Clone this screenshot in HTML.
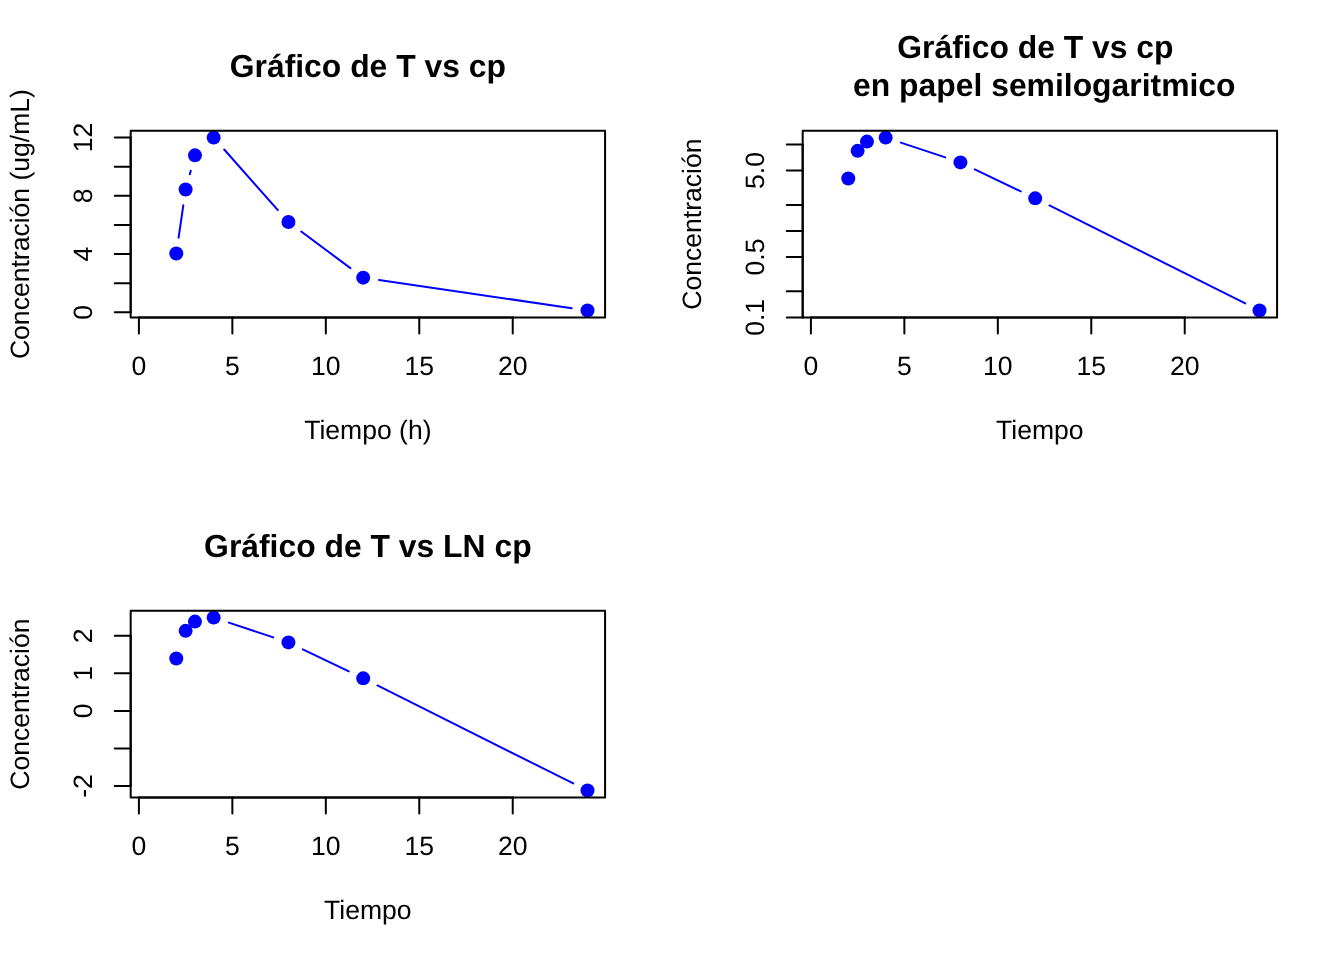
<!DOCTYPE html>
<html><head><meta charset="utf-8"><style>
html,body{margin:0;padding:0;background:#fff;width:1344px;height:960px;overflow:hidden}
svg{display:block;will-change:transform}
text{font-family:"Liberation Sans",sans-serif;fill:#000;text-rendering:geometricPrecision}
.ax{font-size:26.56px}
.mn{font-size:31.87px;font-weight:bold}
line,rect{stroke-width:2;stroke-linecap:round;stroke-linejoin:round}
</style></head><body>
<svg width="1344" height="960" viewBox="0 0 1344 960">
<rect x="0" y="0" width="1344" height="960" fill="#fff" stroke="none"/>
<line x1="178.59" y1="237.70" x2="183.32" y2="205.33" stroke="#0000ff"/>
<line x1="189.83" y1="174.19" x2="190.77" y2="170.73" stroke="#0000ff"/>
<line x1="224.23" y1="149.52" x2="277.87" y2="210.10" stroke="#0000ff"/>
<line x1="301.22" y1="231.54" x2="350.41" y2="268.12" stroke="#0000ff"/>
<line x1="378.97" y1="279.95" x2="571.73" y2="308.22" stroke="#0000ff"/>
<circle cx="176.28" cy="253.47" r="7.0" fill="#0000ff" stroke="none"/>
<circle cx="185.63" cy="189.56" r="7.0" fill="#0000ff" stroke="none"/>
<circle cx="194.97" cy="155.35" r="7.0" fill="#0000ff" stroke="none"/>
<circle cx="213.67" cy="137.59" r="7.0" fill="#0000ff" stroke="none"/>
<circle cx="288.43" cy="222.03" r="7.0" fill="#0000ff" stroke="none"/>
<circle cx="363.20" cy="277.64" r="7.0" fill="#0000ff" stroke="none"/>
<circle cx="587.50" cy="310.54" r="7.0" fill="#0000ff" stroke="none"/>
<rect x="130.68" y="130.68" width="474.39" height="186.78" fill="none" stroke="#000"/>
<line x1="138.90" y1="317.45" x2="512.73" y2="317.45" stroke="#000"/>
<line x1="138.90" y1="317.45" x2="138.90" y2="333.39" stroke="#000"/>
<text x="138.90" y="374.82" class="ax" text-anchor="middle">0</text>
<line x1="232.36" y1="317.45" x2="232.36" y2="333.39" stroke="#000"/>
<text x="232.36" y="374.82" class="ax" text-anchor="middle">5</text>
<line x1="325.82" y1="317.45" x2="325.82" y2="333.39" stroke="#000"/>
<text x="325.82" y="374.82" class="ax" text-anchor="middle">10</text>
<line x1="419.27" y1="317.45" x2="419.27" y2="333.39" stroke="#000"/>
<text x="419.27" y="374.82" class="ax" text-anchor="middle">15</text>
<line x1="512.73" y1="317.45" x2="512.73" y2="333.39" stroke="#000"/>
<text x="512.73" y="374.82" class="ax" text-anchor="middle">20</text>
<line x1="130.68" y1="312.28" x2="130.68" y2="137.59" stroke="#000"/>
<line x1="130.68" y1="312.28" x2="114.74" y2="312.28" stroke="#000"/>
<line x1="130.68" y1="283.17" x2="114.74" y2="283.17" stroke="#000"/>
<line x1="130.68" y1="254.05" x2="114.74" y2="254.05" stroke="#000"/>
<line x1="130.68" y1="224.94" x2="114.74" y2="224.94" stroke="#000"/>
<line x1="130.68" y1="195.82" x2="114.74" y2="195.82" stroke="#000"/>
<line x1="130.68" y1="166.71" x2="114.74" y2="166.71" stroke="#000"/>
<line x1="130.68" y1="137.59" x2="114.74" y2="137.59" stroke="#000"/>
<text x="92.43" y="312.28" class="ax" text-anchor="middle" transform="rotate(-90 92.43 312.28)">0</text>
<text x="92.43" y="254.05" class="ax" text-anchor="middle" transform="rotate(-90 92.43 254.05)">4</text>
<text x="92.43" y="195.82" class="ax" text-anchor="middle" transform="rotate(-90 92.43 195.82)">8</text>
<text x="92.43" y="137.59" class="ax" text-anchor="middle" transform="rotate(-90 92.43 137.59)">12</text>
<text x="367.87" y="76.75" class="mn" text-anchor="middle" xml:space="preserve">Gráfico de T vs cp</text>
<text x="367.87" y="438.57" class="ax" text-anchor="middle">Tiempo (h)</text>
<text x="28.68" y="224.06" class="ax" text-anchor="middle" transform="rotate(-90 28.68 224.06)">Concentración (ug/mL)</text>
<line x1="900.79" y1="142.61" x2="945.31" y2="157.37" stroke="#0000ff"/>
<line x1="974.79" y1="169.30" x2="1020.84" y2="191.44" stroke="#0000ff"/>
<line x1="1049.45" y1="205.48" x2="1245.25" y2="303.41" stroke="#0000ff"/>
<circle cx="848.28" cy="178.48" r="7.0" fill="#0000ff" stroke="none"/>
<circle cx="857.63" cy="150.85" r="7.0" fill="#0000ff" stroke="none"/>
<circle cx="866.97" cy="141.62" r="7.0" fill="#0000ff" stroke="none"/>
<circle cx="885.67" cy="137.59" r="7.0" fill="#0000ff" stroke="none"/>
<circle cx="960.43" cy="162.39" r="7.0" fill="#0000ff" stroke="none"/>
<circle cx="1035.20" cy="198.35" r="7.0" fill="#0000ff" stroke="none"/>
<circle cx="1259.50" cy="310.54" r="7.0" fill="#0000ff" stroke="none"/>
<rect x="802.68" y="130.68" width="474.39" height="186.78" fill="none" stroke="#000"/>
<line x1="810.90" y1="317.45" x2="1184.73" y2="317.45" stroke="#000"/>
<line x1="810.90" y1="317.45" x2="810.90" y2="333.39" stroke="#000"/>
<text x="810.90" y="374.82" class="ax" text-anchor="middle">0</text>
<line x1="904.36" y1="317.45" x2="904.36" y2="333.39" stroke="#000"/>
<text x="904.36" y="374.82" class="ax" text-anchor="middle">5</text>
<line x1="997.82" y1="317.45" x2="997.82" y2="333.39" stroke="#000"/>
<text x="997.82" y="374.82" class="ax" text-anchor="middle">10</text>
<line x1="1091.27" y1="317.45" x2="1091.27" y2="333.39" stroke="#000"/>
<text x="1091.27" y="374.82" class="ax" text-anchor="middle">15</text>
<line x1="1184.73" y1="317.45" x2="1184.73" y2="333.39" stroke="#000"/>
<text x="1184.73" y="374.82" class="ax" text-anchor="middle">20</text>
<line x1="802.68" y1="317.38" x2="802.68" y2="144.44" stroke="#000"/>
<line x1="802.68" y1="317.38" x2="786.74" y2="317.38" stroke="#000"/>
<line x1="802.68" y1="291.35" x2="786.74" y2="291.35" stroke="#000"/>
<line x1="802.68" y1="256.94" x2="786.74" y2="256.94" stroke="#000"/>
<line x1="802.68" y1="230.91" x2="786.74" y2="230.91" stroke="#000"/>
<line x1="802.68" y1="204.88" x2="786.74" y2="204.88" stroke="#000"/>
<line x1="802.68" y1="170.47" x2="786.74" y2="170.47" stroke="#000"/>
<line x1="802.68" y1="144.44" x2="786.74" y2="144.44" stroke="#000"/>
<text x="764.43" y="317.38" class="ax" text-anchor="middle" transform="rotate(-90 764.43 317.38)">0.1</text>
<text x="764.43" y="256.94" class="ax" text-anchor="middle" transform="rotate(-90 764.43 256.94)">0.5</text>
<text x="764.43" y="170.47" class="ax" text-anchor="middle" transform="rotate(-90 764.43 170.47)">5.0</text>
<text x="1039.87" y="57.62" class="mn" text-anchor="middle" xml:space="preserve">Gráfico de T vs cp </text>
<text x="1039.87" y="95.87" class="mn" text-anchor="middle" xml:space="preserve"> en papel semilogaritmico</text>
<text x="1039.87" y="438.57" class="ax" text-anchor="middle">Tiempo</text>
<text x="700.68" y="224.06" class="ax" text-anchor="middle" transform="rotate(-90 700.68 224.06)">Concentración</text>
<line x1="228.79" y1="622.61" x2="273.31" y2="637.37" stroke="#0000ff"/>
<line x1="302.79" y1="649.30" x2="348.84" y2="671.44" stroke="#0000ff"/>
<line x1="377.45" y1="685.48" x2="573.25" y2="783.41" stroke="#0000ff"/>
<circle cx="176.28" cy="658.48" r="7.0" fill="#0000ff" stroke="none"/>
<circle cx="185.63" cy="630.85" r="7.0" fill="#0000ff" stroke="none"/>
<circle cx="194.97" cy="621.62" r="7.0" fill="#0000ff" stroke="none"/>
<circle cx="213.67" cy="617.59" r="7.0" fill="#0000ff" stroke="none"/>
<circle cx="288.43" cy="642.39" r="7.0" fill="#0000ff" stroke="none"/>
<circle cx="363.20" cy="678.35" r="7.0" fill="#0000ff" stroke="none"/>
<circle cx="587.50" cy="790.54" r="7.0" fill="#0000ff" stroke="none"/>
<rect x="130.68" y="610.68" width="474.39" height="186.78" fill="none" stroke="#000"/>
<line x1="138.90" y1="797.45" x2="512.73" y2="797.45" stroke="#000"/>
<line x1="138.90" y1="797.45" x2="138.90" y2="813.39" stroke="#000"/>
<text x="138.90" y="854.82" class="ax" text-anchor="middle">0</text>
<line x1="232.36" y1="797.45" x2="232.36" y2="813.39" stroke="#000"/>
<text x="232.36" y="854.82" class="ax" text-anchor="middle">5</text>
<line x1="325.82" y1="797.45" x2="325.82" y2="813.39" stroke="#000"/>
<text x="325.82" y="854.82" class="ax" text-anchor="middle">10</text>
<line x1="419.27" y1="797.45" x2="419.27" y2="813.39" stroke="#000"/>
<text x="419.27" y="854.82" class="ax" text-anchor="middle">15</text>
<line x1="512.73" y1="797.45" x2="512.73" y2="813.39" stroke="#000"/>
<text x="512.73" y="854.82" class="ax" text-anchor="middle">20</text>
<line x1="130.68" y1="786.02" x2="130.68" y2="635.80" stroke="#000"/>
<line x1="130.68" y1="786.02" x2="114.74" y2="786.02" stroke="#000"/>
<line x1="130.68" y1="748.46" x2="114.74" y2="748.46" stroke="#000"/>
<line x1="130.68" y1="710.91" x2="114.74" y2="710.91" stroke="#000"/>
<line x1="130.68" y1="673.36" x2="114.74" y2="673.36" stroke="#000"/>
<line x1="130.68" y1="635.80" x2="114.74" y2="635.80" stroke="#000"/>
<text x="92.43" y="786.02" class="ax" text-anchor="middle" transform="rotate(-90 92.43 786.02)">-2</text>
<text x="92.43" y="710.91" class="ax" text-anchor="middle" transform="rotate(-90 92.43 710.91)">0</text>
<text x="92.43" y="673.36" class="ax" text-anchor="middle" transform="rotate(-90 92.43 673.36)">1</text>
<text x="92.43" y="635.80" class="ax" text-anchor="middle" transform="rotate(-90 92.43 635.80)">2</text>
<text x="367.87" y="556.75" class="mn" text-anchor="middle" xml:space="preserve">Gráfico de T vs LN cp</text>
<text x="367.87" y="918.57" class="ax" text-anchor="middle">Tiempo</text>
<text x="28.68" y="704.06" class="ax" text-anchor="middle" transform="rotate(-90 28.68 704.06)">Concentración</text>
</svg>
</body></html>
